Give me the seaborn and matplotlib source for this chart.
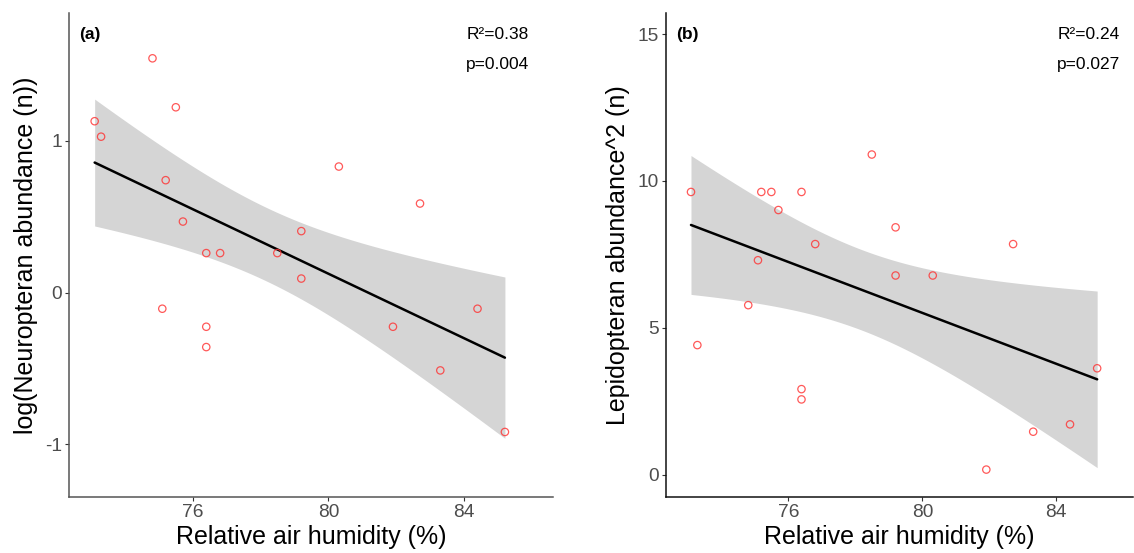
import numpy as np
import pandas as pd
import matplotlib
matplotlib.use("Agg")
import matplotlib.pyplot as plt
import seaborn as sns

# ---- data ----
humidity = [73.09, 73.28, 74.80, 75.09, 75.19, 75.49, 75.70, 76.39, 76.39, 76.39,
            76.80, 78.49, 79.20, 79.20, 80.31, 81.91, 82.71, 83.31, 84.41, 85.22]
neuro_log = [1.13, 1.028, 1.545, -0.107, 0.741, 1.222, 0.468, 0.26, -0.226, -0.36,
             0.26, 0.26, 0.405, 0.092, 0.831, -0.226, 0.587, -0.514, -0.107, -0.92]
lepi_sq = [9.625, 4.41, 5.77, 7.30, 9.625, 9.625, 9.01, 9.625, 2.91, 2.56,
           7.85, 10.9, 8.42, 6.78, 6.78, 0.17, 7.85, 1.46, 1.71, 3.62]

panel_tags = ["(a)", "(b)"]
r2_labels = ["R²=0.38", "R²=0.24"]
p_labels = ["p=0.004", "p=0.027"]
y_titles = ["log(Neuropteran abundance (n))", "Lepidopteran abundance^2 (n)"]
x_title = "Relative air humidity (%)"
x_ticks = [76, 80, 84]
y_ticks = [[-1, 0, 1], [0, 5, 10, 15]]

T_975_DF18 = 2.100922  # Student t quantile for 95% CI, n-2 = 18 df

sns.set_theme(style="white")
plt.rcParams["font.family"] = ["Liberation Sans", "DejaVu Sans"]
plt.rcParams["axes.unicode_minus"] = False
plt.rcParams["text.color"] = "black"

fig = plt.figure(figsize=(11.34, 5.53), dpi=100)
ax_a = fig.add_axes([0.0608, 0.1013, 0.4268, 0.8752])
ax_b = fig.add_axes([0.5869, 0.1013, 0.4122, 0.8752])

def lm_band(x, y):
    x = np.asarray(x, float); y = np.asarray(y, float)
    n = len(x)
    b1, b0 = np.polyfit(x, y, 1)
    resid = y - (b0 + b1 * x)
    s = np.sqrt(np.sum(resid ** 2) / (n - 2))
    xg = np.linspace(x.min(), x.max(), 200)
    se = s * np.sqrt(1 / n + (xg - x.mean()) ** 2 / np.sum((x - x.mean()) ** 2))
    yh = b0 + b1 * xg
    return xg, yh - T_975_DF18 * se, yh + T_975_DF18 * se

datasets = [neuro_log, lepi_sq]
axes = [ax_a, ax_b]
ylims = [(-1.349, 1.844), (-0.763, 15.72)]
xlims = [(72.33, 86.64), (72.33, 86.29)]
spine_cols = ["#555555", "#111111"]

for i, (ax, yv) in enumerate(zip(axes, datasets)):
    df = pd.DataFrame({"x": humidity, "y": yv})
    xg, lo, hi = lm_band(df.x, df.y)
    ax.fill_between(xg, lo, hi, color="#D5D5D5", linewidth=0, zorder=1)
    sns.regplot(data=df, x="x", y="y", ax=ax, ci=None,
                scatter_kws=dict(s=28, facecolors="none", edgecolors="#FF3030",
                                 linewidths=0.9, zorder=3),
                line_kws=dict(color="black", linewidth=1.8, zorder=2))
    ax.set_xlim(*xlims[i])
    ax.set_ylim(*ylims[i])
    ax.set_xticks(x_ticks)
    ax.set_yticks(y_ticks[i])
    ax.tick_params(axis="both", labelsize=13.8, labelcolor="#4D4D4D", length=3,
                   width=0.8, color="#333333", left=True, bottom=True, pad=2)
    ax.set_xlabel(x_title, fontsize=18, color="black", labelpad=3)
    ax.set_ylabel(y_titles[i], fontsize=18, color="black", labelpad=5)
    for s in ["top", "right"]:
        ax.spines[s].set_visible(False)
    for s in ["left", "bottom"]:
        ax.spines[s].set_color(spine_cols[i])
        ax.spines[s].set_linewidth(1.1)
    ax.text(0.022, 0.955, panel_tags[i], transform=ax.transAxes, fontsize=12.5,
            fontweight="bold", ha="left", va="center", color="black")
    ax.text(0.95 if i == 0 else 0.972, 0.955, r2_labels[i], transform=ax.transAxes,
            fontsize=12.5, ha="right", va="center", color="black")
    ax.text(0.95 if i == 0 else 0.972, 0.893, p_labels[i], transform=ax.transAxes,
            fontsize=12.5, ha="right", va="center", color="black")

fig.savefig("out.png", dpi=100)
